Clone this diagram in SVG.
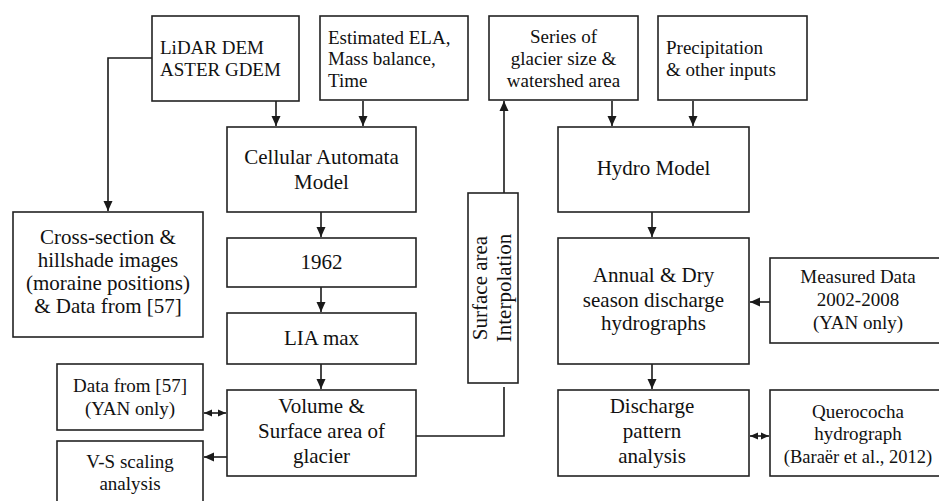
<svg xmlns="http://www.w3.org/2000/svg" width="939" height="501" viewBox="0 0 939 501">
<defs>
<marker id="ah" markerUnits="userSpaceOnUse" markerWidth="10" markerHeight="10" viewBox="0 0 10 10" refX="10" refY="5" orient="auto-start-reverse">
<path d="M0,0.5 L10,5 L0,9.5 Z" fill="#1a1a1a"/>
</marker>
<marker id="ah2" markerUnits="userSpaceOnUse" markerWidth="8" markerHeight="8" viewBox="0 0 8 8" refX="8" refY="4" orient="auto-start-reverse">
<path d="M0,0.5 L8,4 L0,7.5 Z" fill="#1a1a1a"/>
</marker>
</defs>
<style>
.b{fill:#fff;stroke:#222;stroke-width:1.6}
.t{font-size:21px;fill:#111}
.s{font-size:19px}
.c{text-anchor:middle}
.l{fill:none;stroke:#1a1a1a;stroke-width:1.6}
</style>
<rect width="939" height="501" fill="#fff"/>
<g id="connectors">
<path class="l" d="M152,58 H108 V211" marker-end="url(#ah)"/>
<path class="l" d="M276,101 V126" marker-end="url(#ah)"/>
<path class="l" d="M363,101 V126" marker-end="url(#ah)"/>
<path class="l" d="M321,212 V237" marker-end="url(#ah)"/>
<path class="l" d="M321,287 V312" marker-end="url(#ah)"/>
<path class="l" d="M321,364 V389" marker-end="url(#ah)"/>
<path class="l" d="M204,413 H226" marker-start="url(#ah2)" marker-end="url(#ah2)"/>
<path class="l" d="M227,457 H204" marker-end="url(#ah)"/>
<path class="l" d="M416,436 H504 V387"/>
<path class="l" d="M504,193 V101" marker-end="url(#ah)"/>
<path class="l" d="M612,101 V126" marker-end="url(#ah)"/>
<path class="l" d="M693,101 V126" marker-end="url(#ah)"/>
<path class="l" d="M652,212 V237" marker-end="url(#ah)"/>
<path class="l" d="M652,364 V389" marker-end="url(#ah)"/>
<path class="l" d="M770,302 H750" marker-end="url(#ah)"/>
<path class="l" d="M750,436 H769" marker-start="url(#ah2)" marker-end="url(#ah2)"/>
</g>
<g font-family="'Liberation Serif', 'Times New Roman', 'DejaVu Serif', serif">
<g id="lidar">
<rect class="b" x="152" y="16" width="147" height="85"/>
<text class="t s" x="160" y="54">LiDAR DEM</text>
<text class="t s" x="160" y="76">ASTER GDEM</text>
</g>
<g id="ela">
<rect class="b" x="320" y="16" width="148" height="84"/>
<text class="t s" x="328" y="44">Estimated ELA,</text>
<text class="t s" x="328" y="65">Mass balance,</text>
<text class="t s" x="328" y="87">Time</text>
</g>
<g id="series">
<rect class="b" x="489" y="16" width="149" height="84"/>
<text class="t s c" x="563.5" y="43">Series of</text>
<text class="t s c" x="563.5" y="65">glacier size &amp;</text>
<text class="t s c" x="563.5" y="87">watershed area</text>
</g>
<g id="precip">
<rect class="b" x="658" y="16" width="149" height="84"/>
<text class="t s" x="666" y="54">Precipitation</text>
<text class="t s" x="666" y="76">&amp; other inputs</text>
</g>
<g id="ca">
<rect class="b" x="227" y="127" width="189" height="85"/>
<text class="t c" x="321.5" y="164">Cellular Automata</text>
<text class="t c" x="321.5" y="189">Model</text>
</g>
<g id="cross">
<rect class="b" x="13" y="212" width="190" height="125"/>
<text class="t c" x="108" y="244">Cross-section &amp;</text>
<text class="t c" x="108" y="267">hillshade images</text>
<text class="t c" x="108" y="290">(moraine positions)</text>
<text class="t c" x="108" y="313">&amp; Data from [57]</text>
</g>
<g id="y1962">
<rect class="b" x="227" y="238" width="189" height="49"/>
<text class="t c" x="321.5" y="269">1962</text>
</g>
<g id="lia">
<rect class="b" x="227" y="313" width="189" height="51"/>
<text class="t c" x="321.5" y="345">LIA max</text>
</g>
<g id="volume">
<rect class="b" x="227" y="390" width="189" height="86"/>
<text class="t c" x="321.5" y="413">Volume &amp;</text>
<text class="t c" x="321.5" y="438">Surface area of</text>
<text class="t c" x="321.5" y="463">glacier</text>
</g>
<g id="data57">
<rect class="b" x="57" y="364" width="146" height="66"/>
<text class="t s c" x="130" y="392">Data from [57]</text>
<text class="t s c" x="130" y="415">(YAN only)</text>
</g>
<g id="vs">
<rect class="b" x="57" y="441" width="146" height="70"/>
<text class="t s c" x="130" y="468">V-S scaling</text>
<text class="t s c" x="130" y="490">analysis</text>
</g>
<g id="interp">
<rect class="b" x="468" y="193" width="50" height="190"/>
<g transform="translate(493,288) rotate(-90)">
<text class="t c" x="0" y="-6">Surface area</text>
<text class="t c" x="0" y="18">Interpolation</text>
</g>
</g>
<g id="hydro">
<rect class="b" x="558" y="127" width="191" height="85"/>
<text class="t c" x="653.5" y="175">Hydro Model</text>
</g>
<g id="annual">
<rect class="b" x="558" y="238" width="191" height="126"/>
<text class="t c" x="653.5" y="282">Annual &amp; Dry</text>
<text class="t c" x="653.5" y="307">season discharge</text>
<text class="t c" x="653.5" y="330">hydrographs</text>
</g>
<g id="measured">
<rect class="b" x="770" y="258" width="170" height="85"/>
<text class="t s c" x="858" y="283">Measured Data</text>
<text class="t s c" x="858" y="306">2002-2008</text>
<text class="t s c" x="858" y="329">(YAN only)</text>
</g>
<g id="discharge">
<rect class="b" x="558" y="390" width="191" height="86"/>
<text class="t c" x="652" y="413">Discharge</text>
<text class="t c" x="652" y="438">pattern</text>
<text class="t c" x="652" y="463">analysis</text>
</g>
<g id="querococha">
<rect class="b" x="770" y="390" width="170" height="86"/>
<text class="t s c" x="858" y="418">Querococha</text>
<text class="t s c" x="858" y="440">hydrograph</text>
<text class="t c" x="858" y="463" style="font-size:18.5px">(Baraër et al., 2012)</text>
</g>
</g>
</svg>
